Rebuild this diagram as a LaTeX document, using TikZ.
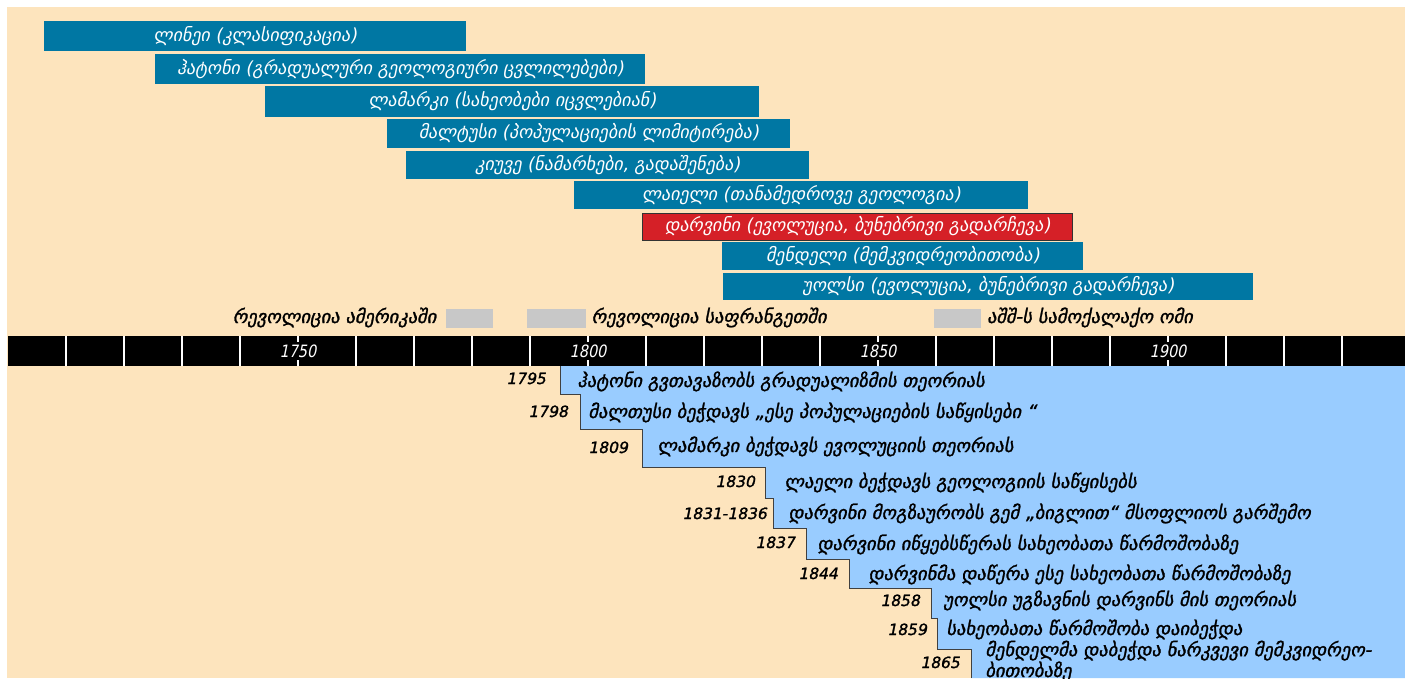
\documentclass[tikz,border=0pt]{standalone}
\usepackage{fontspec}
\usepackage{tikz}
\usetikzlibrary{positioning}

\definecolor{sand}{RGB}{253,228,189}
\definecolor{barblue}{RGB}{0,119,163}
\definecolor{barred}{RGB}{213,32,39}
\definecolor{sky}{RGB}{153,204,255}
\definecolor{legendgray}{RGB}{200,200,200}

\newfontfamily\geo[FakeSlant=0.2]{DejaVu Sans}
\newfontfamily\geobold[FakeSlant=0.2,FakeBold=1.4]{DejaVu Sans}
\newfontfamily\digits[FakeSlant=0.2,FakeStretch=0.85]{DejaVu Sans}
\newcommand\barfont{\geo\fontsize{18pt}{20pt}\selectfont}
\newcommand\eventfont{\geobold\fontsize{18.5pt}{19pt}\selectfont}
\newcommand\decadefont{\digits\fontsize{17pt}{18pt}\selectfont}
\newcommand\yeartagfont{\geobold\fontsize{15.5pt}{18pt}\selectfont}

\begin{document}
\begin{tikzpicture}[x=1pt, y=-1pt,
  lifebar/.style={fill=barblue, text=white, anchor=north west, inner sep=0pt,
    font=\barfont, text height=13pt, text depth=3pt},
  swatch/.style={fill=legendgray, minimum height=19pt, inner sep=0pt},
  legendtext/.style={font=\eventfont, inner sep=0pt, text height=13pt, text depth=4pt},
  decade/.style={fill=black, text=white, font=\decadefont, inner sep=3pt,
    text height=12pt, text depth=0pt},
  yeartag/.style={font=\yeartagfont, inner sep=0pt, anchor=base east},
  eventtext/.style={font=\eventfont, inner sep=0pt, anchor=base west, align=left}]

  % page and sand background
  \useasboundingbox (0,0) rectangle (1405,678);
  \fill[white] (0,0) rectangle (1405,678);
  \fill[sand] (7,7) rectangle (1405,678);

  % life spans
  \node[lifebar, minimum width=422pt, minimum height=30pt] (linnaeus) at (44,21) {ლინეი  (კლასიფიკაცია)};
  \node[lifebar, minimum width=490pt, minimum height=30pt] (hutton) at (155,54) {ჰატონი (გრადუალური გეოლოგიური ცვლილებები)};
  \node[lifebar, minimum width=494pt, minimum height=31pt] (lamarck) at (265,86) {ლამარკი (სახეობები იცვლებიან)};
  \node[lifebar, minimum width=403pt, minimum height=29pt] (malthus) at (387,119) {მალტუსი (პოპულაციების ლიმიტირება)};
  \node[lifebar, minimum width=403pt, minimum height=28pt] (cuvier) at (406,151) {კიუვე (ნამარხები, გადაშენება)};
  \node[lifebar, minimum width=454pt, minimum height=28pt] (lyell) at (574,181) {ლაიელი (თანამედროვე გეოლოგია)};
  \node[lifebar, fill=barred, draw=black!80, line width=0.8pt, minimum width=430pt, minimum height=27pt] (darwin) at (642,213) {დარვინი (ევოლუცია, ბუნებრივი გადარჩევა)};
  \node[lifebar, minimum width=361pt, minimum height=28pt] (mendel) at (722,242) {მენდელი (მემკვიდრეობითობა)};
  \node[lifebar, minimum width=530pt, minimum height=27pt] (wallace) at (723,273) {უოლსი (ევოლუცია, ბუნებრივი გადარჩევა)};

  % wars and revolutions
  \node[swatch, minimum width=47pt] (amrev) at (469,318.5) {};
  \node[legendtext, left=9pt of amrev] (amrevtext) {რევოლიცია ამერიკაში};
  \node[swatch, minimum width=59pt] (frrev) at (556.5,318.5) {};
  \node[legendtext, right=5pt of frrev] (frrevtext) {რევოლიცია საფრანგეთში};
  \node[swatch, minimum width=47pt] (civwar) at (957,318.5) {};
  \node[legendtext, right=6pt of civwar] (civwartext) {აშშ-ს სამოქალაქო ომი};

  % time axis, one tick per decade
  \fill[black] (8,336) rectangle (1405,366);
  \foreach \k in {1,...,23}
    \draw[white, line width=1.6pt] ({8+58*\k},336) -- ({8+58*\k},366);
  \node[decade] (d1750) at (298,351) {1750};
  \node[decade] (d1800) at (588,351) {1800};
  \node[decade] (d1850) at (878,351) {1850};
  \node[decade] (d1900) at (1168,351) {1900};

  % events, stepping down to the right
  \fill[sky] (1405,366) -- (560,366) -- (560,394) -- (580,394) -- (580,429)
    -- (642,429) -- (642,467) -- (765,467) -- (765,498) -- (773,498)
    -- (773,528) -- (806,528) -- (806,559) -- (849,559) -- (849,588)
    -- (931,588) -- (931,618) -- (937,618) -- (937,649) -- (971,649)
    -- (971,678) -- (1405,678) -- cycle;
  \draw[black!75, line width=0.8pt] (560,366) -- (560,394) -- (580,394) -- (580,429)
    -- (642,429) -- (642,467) -- (765,467) -- (765,498) -- (773,498)
    -- (773,528) -- (806,528) -- (806,559) -- (849,559) -- (849,588)
    -- (931,588) -- (931,618) -- (937,618) -- (937,649) -- (971,649)
    -- (971,678);

  \node[yeartag] (y1795) at (546,384) {1795};
  \node[eventtext] (e1795) at (577,387) {ჰატონი გვთავაზობს გრადუალიზმის თეორიას};
  \node[yeartag] (y1798) at (568,417) {1798};
  \node[eventtext] (e1798) at (588,418) {მალთუსი ბეჭდავს „ესე პოპულაციების საწყისები “};
  \node[yeartag] (y1809) at (628,453) {1809};
  \node[eventtext] (e1809) at (657,452) {ლამარკი ბეჭდავს ევოლუციის თეორიას};
  \node[yeartag] (y1830) at (755,487) {1830};
  \node[eventtext] (e1830) at (784,488) {ლაელი ბეჭდავს გეოლოგიის საწყისებს};
  \node[yeartag] (y1831) at (767,519) {1831-1836};
  \node[eventtext] (e1831) at (788,519) {დარვინი მოგზაურობს გემ „ბიგლით“ მსოფლიოს გარშემო};
  \node[yeartag] (y1837) at (795,548) {1837};
  \node[eventtext] (e1837) at (817,550) {დარვინი იწყებსწერას სახეობათა წარმოშობაზე};
  \node[yeartag] (y1844) at (838,579) {1844};
  \node[eventtext] (e1844) at (868,580) {დარვინმა დაწერა ესე სახეობათა წარმოშობაზე};
  \node[yeartag] (y1858) at (920,606) {1858};
  \node[eventtext] (e1858) at (943,606) {უოლსი უგზავნის დარვინს მის თეორიას};
  \node[yeartag] (y1859) at (927,635) {1859};
  \node[eventtext] (e1859) at (946,635) {სახეობათა წარმოშობა დაიბეჭდა};
  \node[yeartag] (y1865) at (960,668) {1865};
  \node[eventtext] (e1865) at (985,677) {მენდელმა დაბეჭდა ნარკვევი მემკვიდრეო-\\ბითობაზე};
\end{tikzpicture}
\end{document}
